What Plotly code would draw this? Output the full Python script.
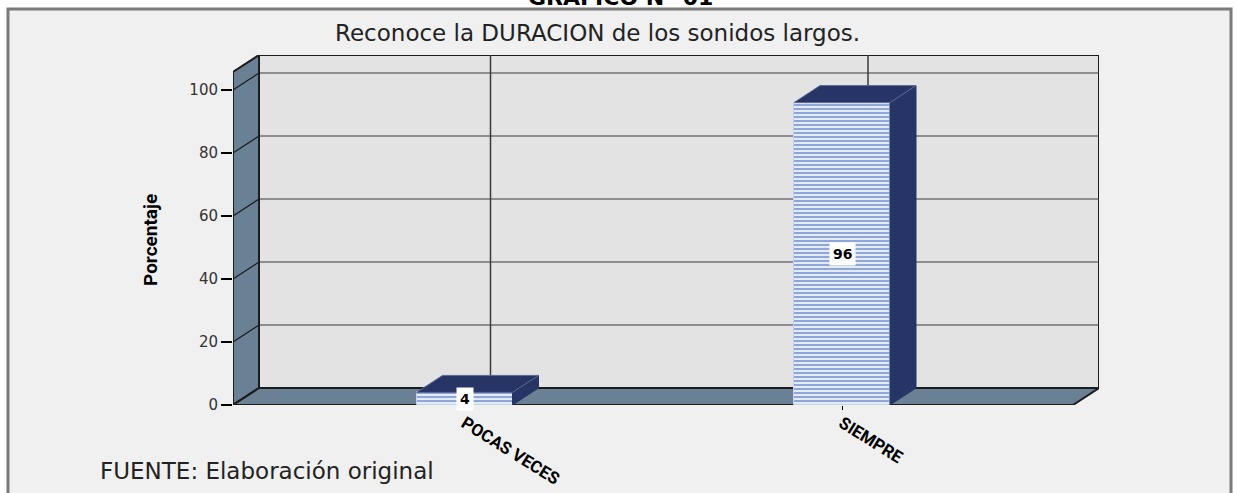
import plotly.graph_objects as go

# ---------------- data ----------------
categories = ["POCAS VECES", "SIEMPRE"]
percentages = [4, 96]
y_ticks = [0, 20, 40, 60, 80, 100]
chart_title = "GRAFICO N° 01"
subtitle = "Reconoce la DURACION de los sonidos largos."
y_title = "Porcentaje"
source_note = "FUENTE: Elaboración original"

# ---------------- geometry (pixels) ----------------
W, H = 1237, 493
PL, PR, PT, PB = 233, 1099, 55, 405          # plot area incl. depth
DEPTH_X_PX, DEPTH_Y_PX = 26, 17
CAT_GAP_PX = 377.5
LEFT_PAD_PX = 231.5
BAR_W_PX = 96
PX_PER_Y = 3.15

xs = list(range(len(categories)))
x_front0 = -LEFT_PAD_PX / CAT_GAP_PX
DX = DEPTH_X_PX / CAT_GAP_PX
x_max = x_front0 + (PR - PL) / CAT_GAP_PX
x_front1 = x_max - DX
y_max = (PB - PT) / PX_PER_Y
DY = DEPTH_Y_PX / PX_PER_Y
y_front_top = y_max - DY
BW = BAR_W_PX / CAT_GAP_PX


def px_x(p):
    return (p - PL) / (PR - PL)


def px_y(p):
    return (PB - p) / (PB - PT)


WALL = "#6a8094"
EDGE = "#1c1c1c"
NAVY = "#263566"

shapes = []
# outer frame (paper)
shapes.append(dict(type="rect", xref="paper", yref="paper",
                   x0=px_x(8), x1=px_x(1231), y0=px_y(520), y1=px_y(9),
                   fillcolor="#f0f0f0", line=dict(color="#7a7a7a", width=3),
                   layer="below"))
# back wall
shapes.append(dict(type="rect", xref="x", yref="y",
                   x0=x_front0 + DX, x1=x_max, y0=DY, y1=y_max,
                   fillcolor="#e3e3e3", line=dict(color=EDGE, width=2),
                   layer="below"))
# gridlines on back wall
for t in y_ticks[1:]:
    shapes.append(dict(type="line", xref="x", yref="y",
                       x0=x_front0 + DX, x1=x_max, y0=t + DY, y1=t + DY,
                       line=dict(color="#3a3a3a", width=1.2), layer="below"))
for i in xs:
    shapes.append(dict(type="line", xref="x", yref="y",
                       x0=i + DX, x1=i + DX, y0=DY, y1=y_max,
                       line=dict(color="#3a3a3a", width=1.5), layer="below"))
# left wall
shapes.append(dict(type="path", xref="x", yref="y",
                   path=f"M {x_front0},0 L {x_front0},{y_front_top} L {x_front0 + DX},{y_max} L {x_front0 + DX},{DY} Z",
                   fillcolor=WALL, line=dict(color=EDGE, width=2), layer="below"))
for t in y_ticks:
    shapes.append(dict(type="line", xref="x", yref="y",
                       x0=x_front0, x1=x_front0 + DX, y0=t, y1=t + DY,
                       line=dict(color=EDGE, width=1.2), layer="below"))
# floor
shapes.append(dict(type="path", xref="x", yref="y",
                   path=f"M {x_front0},0 L {x_front0 + DX},{DY} L {x_max},{DY} L {x_front1},0 Z",
                   fillcolor=WALL, line=dict(color=EDGE, width=2), layer="below"))

fig = go.Figure()

# bar front faces
fig.add_trace(go.Bar(
    x=xs, y=percentages, width=BW,
    marker=dict(color="#e2e9f7",
                pattern=dict(shape="-", fgcolor="#8ea6da", bgcolor="#e4ebf8",
                             size=4, solidity=0.5, fillmode="replace"),
                line=dict(width=1, color="#c4d0ec")),
    hoverinfo="skip", showlegend=False))

# top and side faces
for i, v in zip(xs, percentages):
    xl, xr = i - BW / 2, i + BW / 2
    fig.add_trace(go.Scatter(
        x=[xr, xr, xr + DX, xr + DX, xr], y=[0, v, v + DY, DY, 0],
        fill="toself", fillcolor=NAVY, mode="lines",
        line=dict(color=NAVY, width=1), hoverinfo="skip", showlegend=False))
    fig.add_trace(go.Scatter(
        x=[xl, xl + DX, xr + DX, xr, xl], y=[v, v + DY, v + DY, v, v],
        fill="toself", fillcolor=NAVY, mode="lines",
        line=dict(color="#5c6a92", width=1), hoverinfo="skip", showlegend=False))

annotations = []
for i, v in zip(xs, percentages):
    annotations.append(dict(x=i, y=v / 2, xref="x", yref="y", text=f"<b>{v}</b>",
                            showarrow=False, bgcolor="white", borderpad=3,
                            font=dict(family="DejaVu Sans", size=14, color="black")))

annotations += [
    dict(x=px_x(620), y=px_y(-3), xref="paper", yref="paper", text=f"<b>{chart_title}</b>",
         showarrow=False, xanchor="center", yanchor="middle",
         font=dict(family="DejaVu Sans", size=22, color="black")),
    dict(x=px_x(597), y=px_y(33), xref="paper", yref="paper", text=subtitle,
         showarrow=False, xanchor="center", yanchor="middle",
         font=dict(family="DejaVu Sans", size=23, color="#222222")),
    dict(x=px_x(150), y=px_y(240), xref="paper", yref="paper", text=f"<b>{y_title}</b>",
         showarrow=False, xanchor="center", yanchor="middle", textangle=-90,
         font=dict(family="Roboto, sans-serif", size=19, color="black")),
    dict(x=px_x(98), y=px_y(471), xref="paper", yref="paper", text=source_note,
         showarrow=False, xanchor="left", yanchor="middle",
         font=dict(family="DejaVu Sans", size=23, color="#222222")),
]

fig.update_layout(
    width=W, height=H, autosize=False,
    margin=dict(l=PL, r=W - PR, t=PT, b=H - PB, pad=0, autoexpand=False),
    paper_bgcolor="white", plot_bgcolor="rgba(0,0,0,0)",
    shapes=shapes, annotations=annotations, showlegend=False,
    bargap=0,
    xaxis=dict(range=[x_front0, x_max], tickvals=xs, ticktext=[f"<b>{c}</b>" for c in categories],
               tickangle=32, ticks="outside", ticklen=4, tickcolor="black",
               ticklabelstandoff=-3,
               showgrid=False, zeroline=False, showline=False, fixedrange=True,
               automargin=False,
               tickfont=dict(family="Roboto, sans-serif", size=17, color="black")),
    yaxis=dict(range=[0, y_max], tickvals=y_ticks, ticks="outside", ticklen=11,
               tickcolor="black", tickwidth=1.5,
               showgrid=False, zeroline=False, showline=False, fixedrange=True,
               automargin=False,
               tickfont=dict(family="DejaVu Sans", size=15, color="#333333")),
)

fig.write_html("out.html", config={"displayModeBar": False},
               post_script="document.body.style.margin='0';document.body.style.overflow='hidden';")
